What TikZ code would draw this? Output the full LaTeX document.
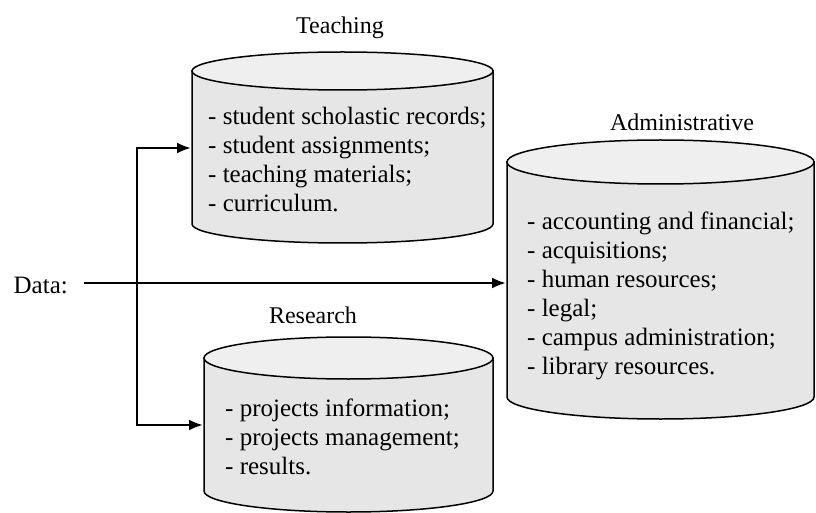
\documentclass[tikz,border=0pt]{standalone}
\usepackage{fontspec}
\setmainfont{Liberation Serif}
\usetikzlibrary{arrows.meta}
\tikzset{
  cylbody/.style={draw=black, line width=1.5pt, fill=cylgray},
  cyltop/.style={draw=black, line width=1.5pt, fill=topgray},
  listtext/.style={anchor=west, align=left, inner sep=0pt, font=\fontsize{25}{29}\selectfont},
  cyllabel/.style={inner sep=0pt, font=\fontsize{24}{28}\selectfont},
  conn/.style={line width=2.5pt, -{Latex[length=14pt,width=11pt]}},
}
\definecolor{cylgray}{HTML}{E6E6E6}
\definecolor{topgray}{HTML}{EFEFEF}
\newcommand\mycyl[6]{% left, right, top center y, bottom center y, ry, name
  \pgfmathsetmacro\cx{(#1+#2)/2}
  \pgfmathsetmacro\rx{(#2-#1)/2}
  \path[cylbody] (#1,#3) -- (#1,#4) arc[start angle=180, end angle=360, x radius=\rx, y radius=#5] -- (#2,#3) -- cycle;
  \path[cyltop] (\cx,#3) ellipse[x radius=\rx, y radius=#5];
}
\begin{document}
\begin{tikzpicture}[x=1pt,y=1pt]
\useasboundingbox (0,0) rectangle (816,512);
% cylinders
\mycyl{192}{493}{441}{288}{19}{teach}
\mycyl{507}{814}{350}{115}{22}{admin}
\mycyl{204}{493}{154}{21}{21}{res}
% labels
\node[cyllabel] (tlabel) at (340,484) {Teaching};
\node[cyllabel] (alabel) at (682,390) {Administrative};
\node[cyllabel] (rlabel) at (313,197) {Research};
% texts
\node[listtext] (ttext) at (208,352) {- student scholastic records;\\- student assignments;\\- teaching materials;\\- curriculum.};
\node[listtext] (atext) at (527,216) {- accounting and financial;\\- acquisitions;\\- human resources;\\- legal;\\- campus administration;\\- library resources.};
\node[listtext] (rtext) at (225,75.5) {- projects information;\\- projects management;\\- results.};
% data
\node[anchor=east, inner xsep=16pt, inner ysep=0pt, font=\fontsize{25}{29}\selectfont] (data) at (84,227) {Data:};
\coordinate (j) at (137,229);
\coordinate (tin) at (191,364);
\coordinate (ain) at (506,229);
\coordinate (rin) at (203,87);
\coordinate (d0) at (84,229);
\draw[conn] (d0) -- (ain);
\draw[conn] (j) |- (tin);
\draw[conn] (j) |- (rin);
\end{tikzpicture}
\end{document}
